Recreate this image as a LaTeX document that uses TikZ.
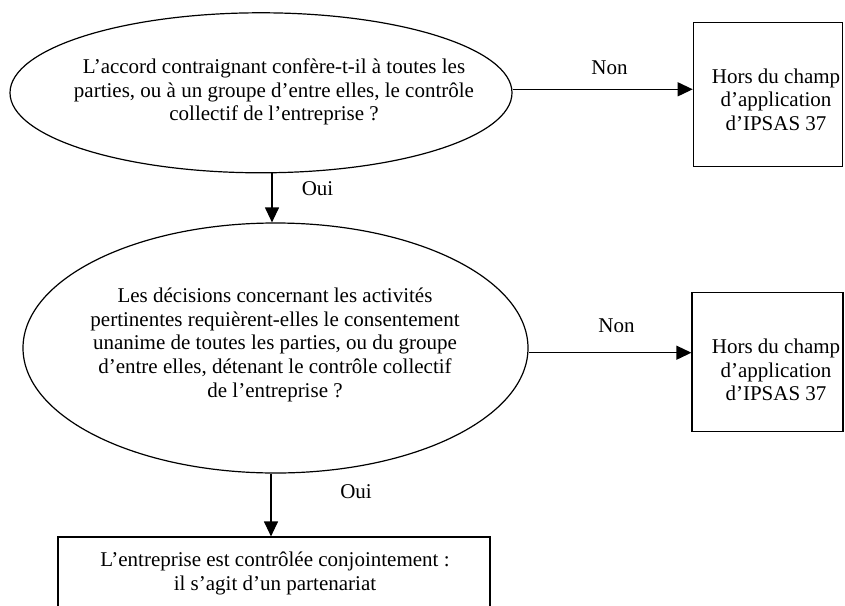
\documentclass[tikz,border=0pt]{standalone}
\usepackage{fontspec}
\setmainfont{Liberation Serif}
\usetikzlibrary{shapes.geometric,arrows.meta}
\begin{document}
\begin{tikzpicture}[x=1pt,y=-1pt,
  every node/.style={font=\fontsize{21}{23.7}\selectfont},
  question/.style={draw, ellipse, line width=1.2pt, inner sep=0pt},
  outcome/.style={draw, rectangle, line width=1.2pt, inner sep=0pt},
  txt/.style={align=center, inner sep=0pt},
  lbl/.style={anchor=base, inner sep=0pt},
  flow/.style={line width=1.2pt, -{Triangle[length=15pt,width=14pt]}}
]
\useasboundingbox (0,0) rectangle (845,605);
\clip (0,0) rectangle (845,605);

% decision ellipses
\node[question, minimum width=502pt, minimum height=160pt] (q1) at (261,92.8) {};
\node[txt] (q1t) at (274,92.3) {\strut L’accord contraignant confère-t-il à toutes les\\
  \strut parties, ou à un groupe d’entre elles, le contrôle\\
  \strut collectif de l’entreprise ?};

\node[question, minimum width=505pt, minimum height=250pt] (q2) at (275.5,348) {};
\node[txt] (q2t) at (275,345) {\strut Les décisions concernant les activités\\
  \strut pertinentes requièrent-elles le consentement\\
  \strut unanime de toutes les parties, ou du groupe\\
  \strut d’entre elles, détenant le contrôle collectif\\
  \strut de l’entreprise ?};

% outcome boxes
\node[outcome, minimum width=149.2pt, minimum height=144pt] (b1) at (767.9,94.7) {};
\node[txt] (b1t) at (776,102) {\strut Hors du champ\\ \strut d’application\\ \strut d’IPSAS 37};

\node[outcome, minimum width=151pt, minimum height=139.5pt] (b2) at (767.5,362) {};
\node[txt] (b2t) at (776,372.3) {\strut Hors du champ\\ \strut d’application\\ \strut d’IPSAS 37};

\node[outcome, minimum width=432pt, minimum height=120pt] (b3) at (274,597) {};
\node[txt] (b3t) at (275,573.8) {\strut L’entreprise est contrôlée conjointement :\\
  \strut il s’agit d’un partenariat};

% connectors
\draw[flow] ([yshift=3.5pt]q1.east) coordinate (n1) -- (n1 -| b1.west);
\draw[flow] ([yshift=-4.7pt]q2.east) coordinate (n2) -- (n2 -| b2.west);
\draw[flow] ([xshift=11pt]q1.south) coordinate (o1) -- (o1 |- q2.north);
\draw[flow] ([xshift=-4.5pt]q2.south) coordinate (o2) -- (o2 |- b3.north);

% branch labels
\node[lbl] (non1) at (609.5,74) {Non};
\node[lbl] (non2) at (616.5,332) {Non};
\node[lbl] (oui1) at (317.5,195) {Oui};
\node[lbl] (oui2) at (356,498) {Oui};
\end{tikzpicture}
\end{document}
